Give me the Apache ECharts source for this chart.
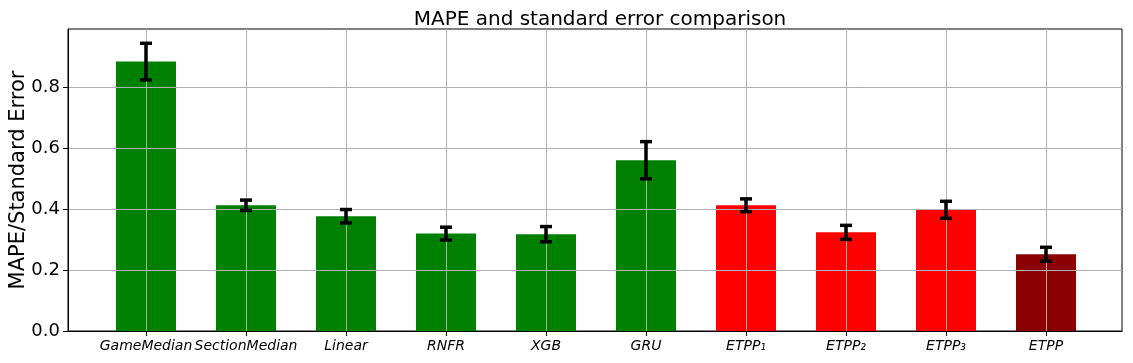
<!DOCTYPE html>
<html lang="en">

<head>
  <meta charset="UTF-8">
  <title>MAPE and standard error comparison</title>
  <style>
    html, body { margin: 0; padding: 0; background: #fff; }
    #main { height: 363px; width: 1133px; }
  </style>
</head>

<body>
<div id="main"></div>
<script src="https://cdn.jsdelivr.net/npm/echarts@6/dist/echarts.min.js"></script>
<script>
  // model names, MAPE values and standard errors
  const models = ['GameMedian', 'SectionMedian', 'Linear', 'RNFR', 'XGB', 'GRU', 'ETPP₁', 'ETPP₂', 'ETPP₃', 'ETPP'];
  const mape = [0.885, 0.413, 0.377, 0.320, 0.318, 0.561, 0.413, 0.324, 0.398, 0.252];
  const stdErr = [0.060, 0.017, 0.022, 0.021, 0.025, 0.061, 0.021, 0.023, 0.028, 0.023];
  const groups = ['base', 'base', 'base', 'base', 'base', 'base', 'part', 'part', 'part', 'full'];
  const yTicks = [0, 0.2, 0.4, 0.6, 0.8];

  const groupColor = { base: '#008000', part: '#ff0000', full: '#8b0000' };
  const font = 'DejaVu Sans';
  const xMin = -0.78, xMax = 9.76;
  const idx = models.map((m, i) => i);
  // empty labels at both ends so the min/max overlap check leaves the real ones alone
  const labelPos = [xMin].concat(idx, [xMax]);

  let chart = echarts.init(document.getElementById('main'));

  let option = {
    animation: false,
    backgroundColor: '#fff',
    title: {
      text: 'MAPE and standard error comparison',
      left: 595,
      textAlign: 'center',
      top: 5,
      textStyle: { fontFamily: font, fontSize: 20, fontWeight: 'normal', color: '#000' }
    },
    grid: {
      left: 68, right: 11, top: 29, bottom: 32,
      outerBoundsMode: 'none',
      show: true, borderColor: '#000', borderWidth: 1
    },
    xAxis: {
      type: 'value',
      min: xMin,
      max: xMax,
      z: 3,
      axisLine: { show: true, onZero: false, lineStyle: { color: '#000', width: 1 } },
      axisTick: { show: true, customValues: idx, length: 5, lineStyle: { color: '#000' } },
      axisLabel: {
        customValues: labelPos,
        hideOverlap: false,
        margin: 8,
        fontFamily: font, fontSize: 14, fontStyle: 'italic', color: '#000',
        formatter: v => {
          let i = Math.round(v);
          return Math.abs(v - i) < 1e-6 && models[i] ? models[i] : '';
        }
      },
      splitLine: { show: true, customValues: idx, lineStyle: { color: '#b0b0b0', width: 1 } }
    },
    yAxis: {
      type: 'value',
      min: 0,
      max: 0.992,
      z: 3,
      name: 'MAPE/Standard Error',
      nameLocation: 'middle',
      nameGap: 39,
      nameMoveOverlap: false,
      nameTextStyle: { fontFamily: font, fontSize: 21, color: '#000' },
      axisLine: { show: true, onZero: false, lineStyle: { color: '#000', width: 1 } },
      axisTick: { show: true, customValues: yTicks, length: 5, lineStyle: { color: '#000' } },
      axisLabel: {
        customValues: yTicks,
        margin: 8,
        fontFamily: font, fontSize: 18, color: '#000',
        formatter: v => v.toFixed(1)
      },
      splitLine: { show: true, lineStyle: { color: '#b0b0b0', width: 1 } }
    },
    series: [
      {
        type: 'bar',
        barWidth: 60,
        z: 2,
        data: mape.map((v, i) => ({ value: [i, v], itemStyle: { color: groupColor[groups[i]] } }))
      },
      {
        type: 'custom',
        z: 5,
        data: mape.map((v, i) => [i, v, stdErr[i]]),
        renderItem: (params, api) => {
          let x = api.value(0), v = api.value(1), e = api.value(2);
          let hi = api.coord([x, v + e]);
          let lo = api.coord([x, v - e]);
          let cap = 6;
          let style = { stroke: '#000', lineWidth: 3.5 };
          return {
            type: 'group',
            children: [
              { type: 'line', shape: { x1: hi[0], y1: hi[1], x2: lo[0], y2: lo[1] }, style: style },
              { type: 'line', shape: { x1: hi[0] - cap, y1: hi[1], x2: hi[0] + cap, y2: hi[1] }, style: style },
              { type: 'line', shape: { x1: lo[0] - cap, y1: lo[1], x2: lo[0] + cap, y2: lo[1] }, style: style }
            ]
          };
        }
      }
    ]
  };
  chart.setOption(option);
</script>
</body>

</html>
